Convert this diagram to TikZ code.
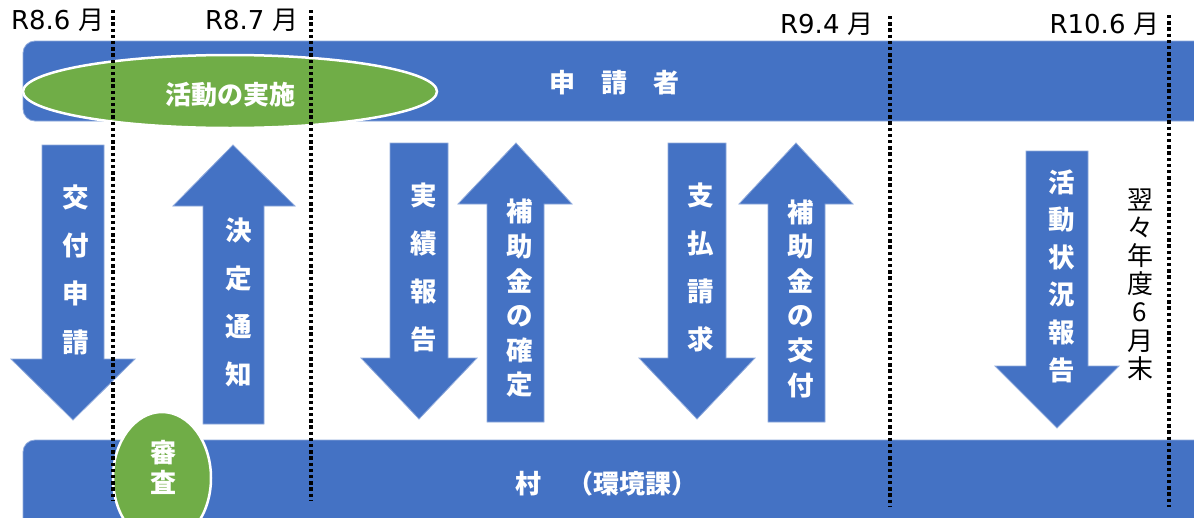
\documentclass[tikz,border=0pt]{standalone}
\usepackage{fontspec}
\newfontfamily\jp{Noto Sans CJK JP}
\newfontfamily\dv{DejaVu Sans}
\definecolor{myblue}{HTML}{4472C4}
\definecolor{myedge}{HTML}{8FAADC}
\definecolor{mygreen}{HTML}{70AD47}
\tikzset{
  bar/.style={fill=myblue, draw=myedge, line width=0.8pt, rounded corners=12pt},
  arr/.style={fill=myblue, draw=myedge, line width=0.8pt},
  gell/.style={fill=mygreen, draw=white, line width=2.5pt},
  hdr/.style={text=white, inner sep=0pt, font=\jp\bfseries\fontsize{26}{30}\selectfont, align=center},
  vlab/.style={text=white, inner sep=0pt, align=center},
  tlab/.style={inner sep=0pt, font=\dv\fontsize{26}{30}\selectfont},
  dotline/.style={black, line width=3.6pt, dash pattern=on 3.4pt off 2.8pt},
}
\begin{document}
\begin{tikzpicture}[x=1pt,y=-1pt]
\useasboundingbox (0,0) rectangle (1194,517);
\clip (0,0) rectangle (1194,517);
\fill[white] (0,0) rectangle (1194,517);

% bars
\draw[bar] (23,41) rectangle (1215,121);
\draw[bar] (23,440) rectangle (1215,545);
\node[hdr] (shinsei) at (614,83) {申　請　者};
\node[hdr] (mura) at (606,484) {村　（環境課）};

% green ellipses
\draw[gell] (230,91.5) ellipse [x radius=207, y radius=36.5];
\node[hdr] (jisshi) at (230,95) {活動の実施};
\draw[gell] (162,478) ellipse [x radius=49, y radius=66];
\node[hdr] (shinsa) at (163,467) {審\\査};

% arrows
\draw[arr] (42,145) -- (104,145) -- (104,359) -- (135,359) -- (73,420) -- (11,359) -- (42,359) -- cycle;
\draw[arr] (233,145) -- (295,206) -- (264,206) -- (264,424) -- (203,424) -- (203,206) -- (173,206) -- cycle;
\draw[arr] (390,143) -- (448,143) -- (448,358) -- (477,358) -- (419,419) -- (361,358) -- (390,358) -- cycle;
\draw[arr] (516,143) -- (572,204) -- (544,204) -- (544,422) -- (487,422) -- (487,204) -- (458,204) -- cycle;
\draw[arr] (668,143) -- (726,143) -- (726,358) -- (755,358) -- (697,419) -- (639,358) -- (668,358) -- cycle;
\draw[arr] (796,143) -- (853,204) -- (825,204) -- (825,422) -- (768,422) -- (768,204) -- (739,204) -- cycle;
\draw[arr] (1026,151) -- (1088,151) -- (1088,366) -- (1119,366) -- (1057,428) -- (995,366) -- (1026,366) -- cycle;

% arrow labels
\node[vlab, font=\jp\bfseries\fontsize{26.5}{48.3}\selectfont] (kofu) at (76,269.5) {交\\付\\申\\請};
\node[vlab, font=\jp\bfseries\fontsize{26.5}{48}\selectfont] (kettei) at (238.5,302.5) {決\\定\\通\\知};
\node[vlab, font=\jp\bfseries\fontsize{26.5}{48}\selectfont] (jisseki) at (423.5,267.5) {実\\績\\報\\告};
\node[vlab, font=\jp\bfseries\fontsize{26.5}{34.6}\selectfont] (kakutei) at (520,298.5) {補\\助\\金\\の\\確\\定};
\node[vlab, font=\jp\bfseries\fontsize{26.5}{48}\selectfont] (shiharai) at (700.5,267.5) {支\\払\\請\\求};
\node[vlab, font=\jp\bfseries\fontsize{26.5}{34.6}\selectfont] (hojokofu) at (800.5,298.5) {補\\助\\金\\の\\交\\付};
\node[vlab, font=\jp\bfseries\fontsize{26.5}{37.6}\selectfont] (jokyo) at (1061.5,276) {活\\動\\状\\況\\報\\告};
\node[inner sep=0pt, align=center, font=\jp\fontsize{26}{28.2}\selectfont] (yokuyoku) at (1140,284.5) {翌\\々\\年\\度\\6\\月\\末};

% time labels
\node[tlab, anchor=base east] (t1) at (105,29) {R8.6 {\jp 月}};
\node[tlab, anchor=base east] (t2) at (299,29) {R8.7 {\jp 月}};
\node[tlab, anchor=base east] (t3) at (874,33) {R9.4 {\jp 月}};
\node[tlab, anchor=base east] (t4) at (1160,33) {R10.6 {\jp 月}};

% dotted time lines
\draw[dotline] (113,10) -- (113,500);
\draw[dotline] (311,10) -- (311,500);
\draw[dotline] (890,16) -- (890,507);
\draw[dotline] (1169,15) -- (1169,507);
\end{tikzpicture}
\end{document}
